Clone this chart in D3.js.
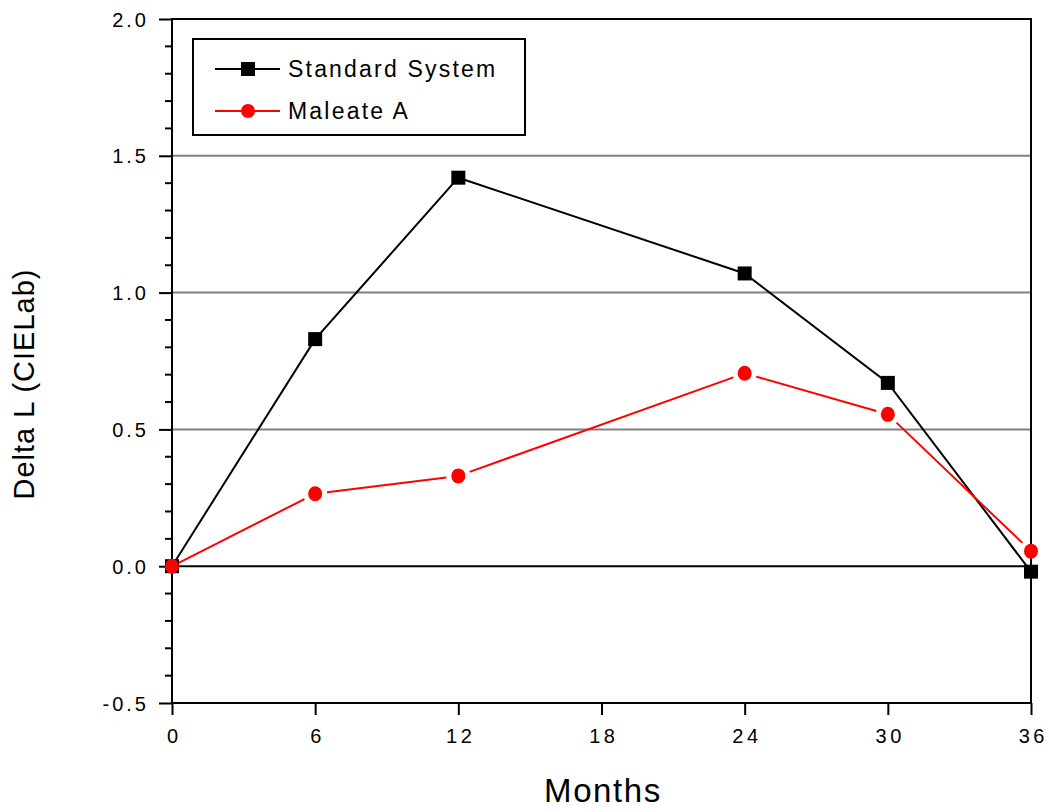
<!DOCTYPE html>
<html><head><meta charset="utf-8">
<script src="https://cdn.jsdelivr.net/npm/d3@7"></script>
<style>body{margin:0;background:#fff}svg{display:block}text{font-family:"Liberation Sans",Arial,sans-serif}</style>
</head><body>
<svg id="c" width="1049" height="812"></svg>
<script>
const months = [0, 6, 12, 24, 30, 36];
const standardSystem = [0, 0.83, 1.42, 1.07, 0.67, -0.02];
const maleateA = [0, 0.265, 0.33, 0.705, 0.555, 0.055];
const xTicks = [0, 6, 12, 18, 24, 30, 36];
const yTicks = [-0.5, 0.0, 0.5, 1.0, 1.5, 2.0];
const seriesNames = ["Standard System", "Maleate A"];

const svg = d3.select("#c");
const L = 172, R = 1031, T = 19, B = 703;
const x = d3.scaleLinear().domain([0, 36]).range([L, R]);
const y = d3.scaleLinear().domain([-0.5, 2.0]).range([B, T]);

// gridlines
svg.append("g").selectAll("line").data([0.5, 1.0, 1.5]).join("line")
  .attr("x1", L).attr("x2", R).attr("y1", d => y(d)).attr("y2", d => y(d))
  .attr("stroke", "#808080").attr("stroke-width", 2);
svg.append("line").attr("x1", L).attr("x2", R).attr("y1", y(0)).attr("y2", y(0))
  .attr("stroke", "#000").attr("stroke-width", 2);

// frame
svg.append("rect").attr("x", L).attr("y", T).attr("width", R - L).attr("height", B - T)
  .attr("fill", "none").attr("stroke", "#000").attr("stroke-width", 2);

// y axis
const yAxis = d3.axisLeft(y).tickValues(yTicks).tickFormat(d => d.toFixed(1)).tickSize(13).tickPadding(10);
const gy = svg.append("g").attr("transform", `translate(${L},0)`).call(yAxis);
gy.select(".domain").remove();
gy.selectAll(".tick line").attr("stroke", "#000").attr("stroke-width", 2);
gy.selectAll(".tick text").style("font-size", "20px").style("letter-spacing", "3px").attr("fill", "#000").attr("dy", "0.35em");
const minor = d3.range(-0.4, 2.0, 0.1).filter(v => Math.abs(v * 2 - Math.round(v * 2)) > 0.01);
svg.append("g").selectAll("line").data(minor).join("line")
  .attr("x1", L - 7).attr("x2", L).attr("y1", d => y(d)).attr("y2", d => y(d))
  .attr("stroke", "#000").attr("stroke-width", 2);

// x axis
const xAxis = d3.axisBottom(x).tickValues(xTicks).tickSize(12).tickPadding(14);
const gx = svg.append("g").attr("transform", `translate(0,${B})`).call(xAxis);
gx.select(".domain").remove();
gx.selectAll(".tick line").attr("stroke", "#000").attr("stroke-width", 2);
gx.selectAll(".tick text").style("font-size", "20px").style("letter-spacing", "3.5px").attr("fill", "#000")
  .attr("dx", "0.09em");

// axis titles
svg.append("text").attr("x", 603).attr("y", 802).attr("text-anchor", "middle")
  .style("font-size", "33px").style("letter-spacing", "1.6px").text("Months");
svg.append("text").attr("transform", "translate(34,384) rotate(-90)").attr("text-anchor", "middle")
  .style("font-size", "29px").style("letter-spacing", "1px").text("Delta L (CIELab)");

// data
const std = months.map((m, i) => [m, standardSystem[i]]);
const mal = months.map((m, i) => [m, maleateA[i]]);
const line = d3.line().x(d => x(d[0])).y(d => y(d[1]));

svg.append("path").datum(std).attr("d", line).attr("fill", "none").attr("stroke", "#000").attr("stroke-width", 2);

// red segments with small gaps around markers
const gap = 12;
const segs = [];
for (let i = 0; i < mal.length - 1; i++) {
  const x1 = x(mal[i][0]), y1 = y(mal[i][1]), x2 = x(mal[i + 1][0]), y2 = y(mal[i + 1][1]);
  const len = Math.hypot(x2 - x1, y2 - y1), ux = (x2 - x1) / len, uy = (y2 - y1) / len;
  const g1 = i === 0 ? 7 : gap;
  segs.push([x1 + ux * g1, y1 + uy * g1, x2 - ux * gap, y2 - uy * gap]);
}
svg.append("g").selectAll("line").data(segs).join("line")
  .attr("x1", d => d[0]).attr("y1", d => d[1]).attr("x2", d => d[2]).attr("y2", d => d[3])
  .attr("stroke", "#ff0000").attr("stroke-width", 2);

svg.append("g").selectAll("rect").data(std).join("rect")
  .attr("x", d => x(d[0]) - 7).attr("y", d => y(d[1]) - 7).attr("width", 14).attr("height", 14).attr("fill", "#000");
svg.append("g").selectAll("ellipse").data(mal).join("ellipse")
  .attr("cx", d => x(d[0])).attr("cy", d => y(d[1])).attr("rx", 7).attr("ry", 7.5).attr("fill", "#ff0000");

// legend
const lg = svg.append("g");
lg.append("rect").attr("x", 193).attr("y", 39).attr("width", 332).attr("height", 96)
  .attr("fill", "#fff").attr("stroke", "#000").attr("stroke-width", 2);
const rows = [{ name: seriesNames[0], color: "#000", sym: "sq", yy: 69 }, { name: seriesNames[1], color: "#ff0000", sym: "ci", yy: 111 }];
rows.forEach(r => {
  lg.append("line").attr("x1", 215).attr("x2", 280).attr("y1", r.yy).attr("y2", r.yy).attr("stroke", r.color).attr("stroke-width", 2);
  if (r.sym === "sq") lg.append("rect").attr("x", 241).attr("y", r.yy - 7).attr("width", 14).attr("height", 14).attr("fill", r.color);
  else lg.append("circle").attr("cx", 248).attr("cy", r.yy).attr("r", 7).attr("fill", r.color);
  lg.append("text").attr("x", 288).attr("y", r.yy + 8).style("font-size", "23px").style("letter-spacing", "2.2px").text(r.name);
});
</script>
</body></html>
